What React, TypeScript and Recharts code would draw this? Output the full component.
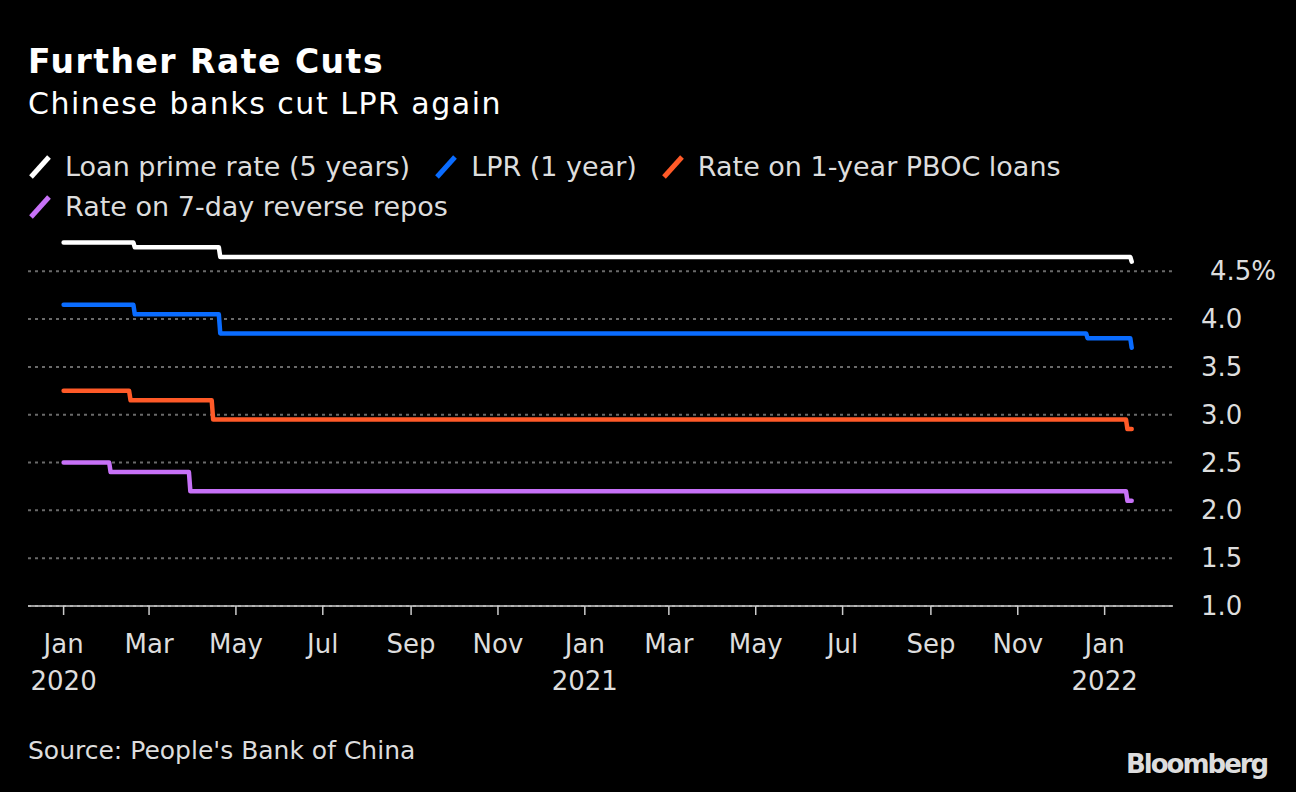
import { CartesianGrid, Line, LineChart, XAxis, YAxis } from 'recharts'

// series: [date, value]
const fiveYearDates = ['2020-01-01', '2020-02-19', '2020-02-20', '2020-04-19', '2020-04-20', '2022-01-19', '2022-01-20']
const fiveYearValues = [4.8, 4.8, 4.75, 4.75, 4.65, 4.65, 4.6]

const oneYearDates = ['2020-01-01', '2020-02-19', '2020-02-20', '2020-04-19', '2020-04-20', '2021-12-19', '2021-12-20', '2022-01-19', '2022-01-20']
const oneYearValues = [4.15, 4.15, 4.05, 4.05, 3.85, 3.85, 3.8, 3.8, 3.7]

const pbocDates = ['2020-01-01', '2020-02-16', '2020-02-17', '2020-04-14', '2020-04-15', '2022-01-16', '2022-01-17', '2022-01-20']
const pbocValues = [3.25, 3.25, 3.15, 3.15, 2.95, 2.95, 2.85, 2.85]

const repoDates = ['2020-01-01', '2020-02-02', '2020-02-03', '2020-03-29', '2020-03-30', '2022-01-16', '2022-01-17', '2022-01-20']
const repoValues = [2.5, 2.5, 2.4, 2.4, 2.2, 2.2, 2.1, 2.1]

const xTickDates = [
  '2020-01-01', '2020-03-01', '2020-05-01', '2020-07-01', '2020-09-01', '2020-11-01',
  '2021-01-01', '2021-03-01', '2021-05-01', '2021-07-01', '2021-09-01', '2021-11-01',
  '2022-01-01',
]
const yTicks = [1, 1.5, 2, 2.5, 3, 3.5, 4, 4.5]
const monthNames = ['Jan', 'Feb', 'Mar', 'Apr', 'May', 'Jun', 'Jul', 'Aug', 'Sep', 'Oct', 'Nov', 'Dec']

const ts = (d: string) => Date.parse(d + 'T00:00:00Z')
const toRows = (dates: string[], values: number[]) => dates.map((d, i) => ({ t: ts(d), v: values[i] }))

const series = [
  { name: 'Loan prime rate (5 years)', color: '#ffffff', data: toRows(fiveYearDates, fiveYearValues) },
  { name: 'LPR (1 year)', color: '#0a6cff', data: toRows(oneYearDates, oneYearValues) },
  { name: 'Rate on 1-year PBOC loans', color: '#ff5a28', data: toRows(pbocDates, pbocValues) },
  { name: 'Rate on 7-day reverse repos', color: '#c771f7', data: toRows(repoDates, repoValues) },
]

const FONT = '"DejaVu Sans", sans-serif'
const TEXT = '#dddddd'

// eslint-disable-next-line @typescript-eslint/no-explicit-any
function MonthTick({ x, y, payload }: any) {
  const d = new Date(payload.value)
  const m = d.getUTCMonth()
  return (
    <g>
      <line x1={x} x2={x} y1={y - 8} y2={y + 1} stroke='#cccccc' strokeWidth={1.5} />
      <text x={x} y={y + 39} textAnchor='middle' fill={TEXT} fontSize={26} fontFamily={FONT}>
        {monthNames[m]}
      </text>
      {m === 0 && (
        <text x={x} y={y + 76} textAnchor='middle' fill={TEXT} fontSize={26} fontFamily={FONT}>
          {d.getUTCFullYear()}
        </text>
      )}
    </g>
  )
}

// eslint-disable-next-line @typescript-eslint/no-explicit-any
function RateTick({ x, y, payload }: any) {
  const top = payload.value === 4.5
  return (
    <text x={x + (top ? 29 : 20)} y={y + 9} fill={TEXT} fontSize={26} fontFamily={FONT}>
      {payload.value.toFixed(1) + (top ? '%' : '')}
    </text>
  )
}

function LegendItem({ name, color }: { name: string; color: string }) {
  return (
    <span style={{ display: 'inline-flex', alignItems: 'center', marginRight: 24 }}>
      <svg width={24} height={26} style={{ marginRight: 13 }}>
        <line x1={3} y1={23} x2={21} y2={3} stroke={color} strokeWidth={5} />
      </svg>
      <span>{name}</span>
    </span>
  )
}

export default function App() {
  return (
    <div
      style={{
        position: 'absolute',
        left: 0,
        top: 0,
        width: 1296,
        height: 792,
        background: '#000000',
        fontFamily: FONT,
        color: TEXT,
        overflow: 'hidden',
      }}
    >
      <div
        style={{
          position: 'absolute',
          left: 28,
          top: 42,
          fontSize: 33,
          fontWeight: 700,
          letterSpacing: 1.5,
          color: '#ffffff',
        }}
      >
        Further Rate Cuts
      </div>
      <div style={{ position: 'absolute', left: 28, top: 86, fontSize: 30, letterSpacing: 1.5, color: '#ffffff' }}>
        Chinese banks cut LPR again
      </div>
      <div style={{ position: 'absolute', left: 28, top: 149, width: 1200, fontSize: 27, lineHeight: '36px' }}>
        {series.slice(0, 3).map((s) => (
          <LegendItem key={s.name} name={s.name} color={s.color} />
        ))}
        <br />
        <LegendItem name={series[3].name} color={series[3].color} />
      </div>

      <div style={{ position: 'absolute', left: 0, top: 0 }}>
        <LineChart width={1296} height={792} margin={{ top: 233, right: 23, bottom: 126, left: 28 }}>
          <CartesianGrid
            vertical={false}
            stroke='#6a6a6a'
            strokeWidth={2}
            strokeDasharray='3 4'
            horizontalValues={yTicks}
          />
          <XAxis
            dataKey='t'
            type='number'
            scale='time'
            domain={[ts('2019-12-07'), ts('2022-02-18')]}
            ticks={xTickDates.map(ts)}
            interval={0}
            tick={<MonthTick />}
            tickLine={false}
            axisLine={{ stroke: '#cccccc', strokeWidth: 1.5 }}
            height={60}
            allowDuplicatedCategory={false}
          />
          <YAxis
            orientation='right'
            type='number'
            domain={[1, 4.9]}
            ticks={yTicks}
            interval={0}
            tick={<RateTick />}
            tickLine={false}
            axisLine={false}
            width={100}
          />
          {series.map((s) => (
            <Line
              key={s.name}
              data={s.data}
              dataKey='v'
              type='linear'
              stroke={s.color}
              strokeWidth={4.5}
              strokeLinecap='round'
              strokeLinejoin='round'
              dot={false}
              isAnimationActive={false}
            />
          ))}
        </LineChart>
      </div>

      <div style={{ position: 'absolute', left: 28, top: 736, fontSize: 25 }}>Source: People's Bank of China</div>
      <div
        style={{
          position: 'absolute',
          left: 1126,
          top: 749,
          fontSize: 26,
          fontWeight: 700,
          letterSpacing: -2,
          color: '#dddddd',
        }}
      >
        Bloomberg
      </div>
    </div>
  )
}
